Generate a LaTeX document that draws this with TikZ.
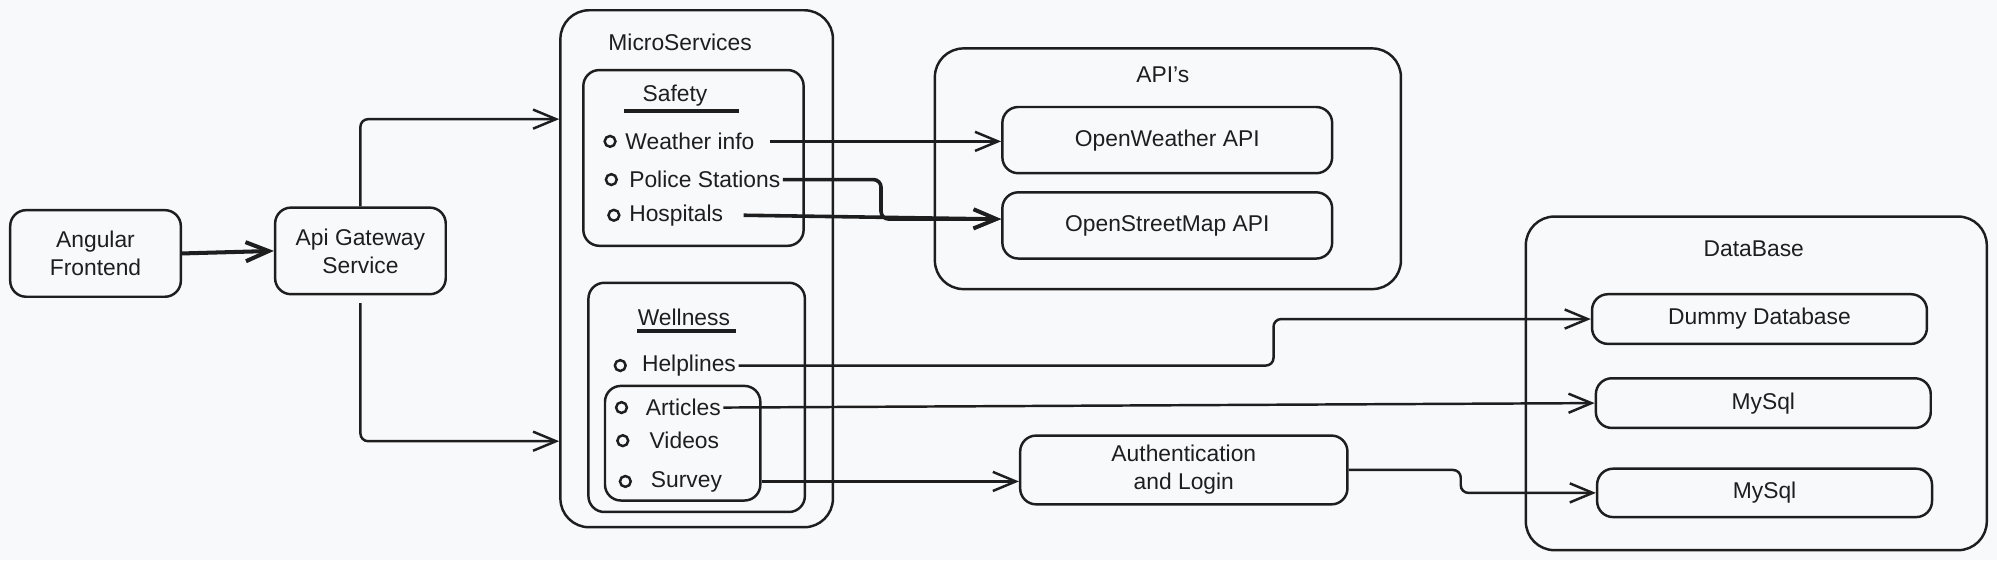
\documentclass[tikz,border=0pt]{standalone}
\usepackage{fontspec}
\setmainfont{Liberation Sans}
\usetikzlibrary{arrows.meta,calc}

\definecolor{ink}{HTML}{1E1E1E}
\definecolor{paper}{HTML}{F8F9FA}
\newcommand\lbl{\fontsize{10.2}{12.5}\selectfont}

\tikzset{
  box/.style={draw=ink, line width=1.1pt, rounded corners=0.25cm, align=center, inner sep=0pt},
  group/.style={draw=ink, line width=1.1pt, rounded corners=0.45cm, inner sep=0pt},
  dot/.style={draw=ink, circle, line width=1.1pt, minimum size=0.17cm, inner sep=0pt},
  item/.style={anchor=west, inner sep=1pt},
  uline/.style={draw=ink, line width=1.6pt},
  arr/.style={draw=ink, line width=1.1pt, rounded corners=0.12cm, -{Straight Barb[length=0.36cm,width=0.3cm]}},
}

\begin{document}
\begin{tikzpicture}[x=0.02cm, y=-0.02cm, font=\lbl, text=ink]
  \useasboundingbox[fill=paper] (0,0) rectangle (1568,439.7);

  % left side
  \node[box, minimum width=2.68cm, minimum height=1.36cm] (angular) at (75,199) {Angular\\Frontend};
  \node[box, minimum width=2.68cm, minimum height=1.36cm] (api) at (283,197) {Api Gateway\\Service};

  % micro services group
  \node[group, minimum width=4.28cm, minimum height=8.12cm] (ms) at (547,211) {};
  \node (mstitle) at (534,33) {MicroServices};
  \node[box, minimum width=3.46cm, minimum height=2.76cm] (safety) at (544.5,124) {};
  \node (sftitle) at (530,75) {Safety};
  \node[box, minimum width=3.4cm, minimum height=3.6cm] (wellness) at (547,312) {};
  \node (wltitle) at (537,249) {Wellness};
  \node[box, minimum width=2.44cm, minimum height=1.8cm] (media) at (536,348) {};
  \draw[uline] (sftitle.center) ++(-40,12) -- ++(90,0);
  \draw[uline] (wltitle.center) ++(-37,11) -- ++(78,0);

  % list items
  \foreach \name/\txt/\x/\tx/\y in {weather/Weather info/479/489/111, police/Police Stations/480/492/141,
      hosp/Hospitals/482/492/169, help/Helplines/487/502/287, art/Articles/488/505/320,
      vid/Videos/489/508/346, surv/Survey/491/509/378} {
    \node[dot] (\name-o) at (\x,\y) {};
    \node[item] (\name) at (\tx,\y) {\txt};
  }

  % apis group
  \node[group, minimum width=7.32cm, minimum height=3.78cm] (apis) at (917,132.5) {};
  \node (apititle) at (913,59) {API's};
  \node[box, minimum width=5.18cm, minimum height=1.04cm] (ow) at (916.5,110) {OpenWeather API};
  \node[box, minimum width=5.18cm, minimum height=1.04cm] (osm) at (916.5,177) {OpenStreetMap API};

  % database group
  \node[group, minimum width=7.24cm, minimum height=5.24cm] (db) at (1379,301) {};
  \node (dbtitle) at (1377,195) {DataBase};
  \node[box, minimum width=5.26cm, minimum height=0.78cm] (dummy) at (1381.5,250.5) {Dummy Database};
  \node[box, minimum width=5.26cm, minimum height=0.78cm] (mysqla) at (1384.5,316.5) {MySql};
  \node[box, minimum width=5.26cm, minimum height=0.76cm] (mysqlb) at (1385.5,387) {MySql};

  \node[box, minimum width=5.14cm, minimum height=1.08cm] (auth) at (929.5,369) {Authentication\\and Login};

  % connectors
  \draw[arr, line width=1.8pt] (angular.east) -- (api.west);
  \draw[arr] (api.north) |- ($(ms.north west)!0.212!(ms.south west)$);
  \draw[arr] ([yshift=-0.12cm]api.south) |- ($(ms.north west)!0.832!(ms.south west)$);
  \draw[arr] ([xshift=0.2cm]weather.east) -- (weather.east -| ow.west);
  \draw[arr, line width=1.6pt] (police.east) -- ++(77,0) |- ([yshift=0.1cm]osm.west);
  \draw[arr, line width=1.6pt] ([xshift=0.28cm]hosp.east) -- ([yshift=0.1cm]osm.west);
  \draw[arr] (help.east) -- ++(420,0) |- (dummy.west);
  \draw[arr] (art.east) -- (mysqla.west);
  \draw[arr] (media.east |- surv.east) -- (surv.east -| auth.west);
  \draw[arr] (auth.east) -- ++(88,0) |- (mysqlb.west);
\end{tikzpicture}
\end{document}
